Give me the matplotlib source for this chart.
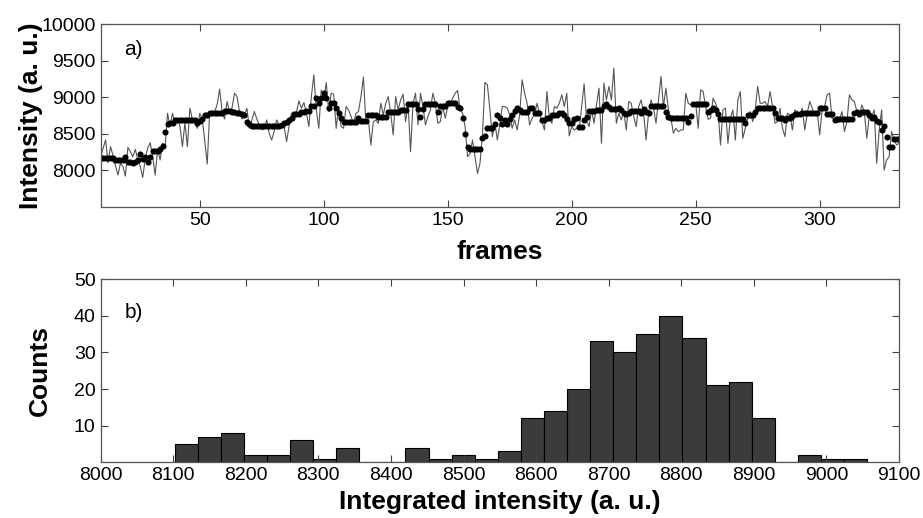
import numpy as np
import matplotlib
matplotlib.use("Agg")
import matplotlib.pyplot as plt

plt.rcParams["font.family"] = ["Liberation Sans", "DejaVu Sans"]

FIRST_FRAME = 10

# raw integrated intensity per frame (thin line), frames 10..332
raw_intensity = [
    8183, 8300, 8413, 8100, 8321, 8200, 8060, 7931, 8092, 8050,   # 10-19
    7917, 8312, 8252, 8183, 8284, 8138, 8050, 7899, 8161, 8300,   # 20-29
    8376, 8183, 7931, 8284, 8138, 8367, 8300, 8780, 8596, 8780,   # 30-39
    8642, 8700, 8600, 8321, 8650, 8321, 8849, 8700, 8642, 8573,   # 40-49
    8780, 8700, 8400, 8083, 8803, 8750, 8800, 8900, 9110, 8800,   # 50-59
    8700, 8940, 8800, 8850, 9055, 9010, 8800, 8700, 8750, 8849,   # 60-69
    8573, 8688, 8803, 8700, 8620, 8550, 8570, 8688, 8500, 8413,   # 70-79
    8530, 8688, 8620, 8642, 8600, 8390, 8600, 8780, 8750, 8800,   # 80-89
    8950, 8849, 8927, 8780, 8596, 9009, 9307, 8826, 8573, 9100,   # 90-99
    8963, 9202, 8803, 9055, 9041, 8573, 8872, 8596, 8573, 8872,   # 100-109
    8826, 8734, 8642, 8780, 8803, 9009, 9275, 8642, 8688, 8344,   # 110-119
    8665, 8688, 8642, 8917, 8757, 8917, 9009, 8780, 8482, 9009,   # 120-129
    8826, 8963, 9041, 8665, 8917, 8252, 8917, 9055, 8619, 9055,   # 130-139
    8872, 8619, 8734, 8826, 9055, 8917, 8642, 8665, 8872, 8711,   # 140-149
    8872, 8917, 8986, 9055, 9092, 8826, 8780, 8596, 8183, 8229,   # 150-159
    8413, 8183, 7954, 8092, 8482, 9202, 9170, 8826, 8459, 8650,   # 160-169
    8413, 8619, 8872, 8872, 8849, 8757, 8573, 8688, 8550, 8757,   # 170-179
    9239, 9055, 8917, 8619, 8711, 8757, 8917, 8780, 8665, 8550,   # 180-189
    9078, 8711, 8642, 8872, 8849, 8917, 9032, 8872, 9055, 8468,   # 190-199
    8596, 8550, 8573, 8550, 8872, 9183, 8688, 8596, 8826, 8642,   # 200-209
    8894, 9124, 8367, 9193, 8963, 9147, 8963, 9399, 8642, 8780,   # 210-219
    8688, 8803, 8550, 8940, 8917, 8734, 8596, 8872, 8963, 8780,   # 220-229
    8413, 8780, 8963, 8849, 8642, 8963, 9284, 8872, 9124, 8826,   # 230-239
    8711, 8505, 8573, 8528, 8550, 8550, 9055, 8917, 8894, 8872,   # 240-249
    8917, 8573, 9100, 9078, 8872, 8697, 8711, 8986, 8917, 8826,   # 250-259
    8344, 8826, 8849, 8367, 8711, 8826, 8413, 8963, 9078, 8436,   # 260-269
    8573, 8711, 8803, 8665, 8826, 9147, 8917, 8917, 8940, 8872,   # 270-279
    9078, 8872, 8642, 8665, 8849, 8573, 8459, 8780, 8757, 8550,   # 280-289
    8826, 8803, 8757, 8849, 8550, 8780, 8940, 8849, 8757, 8803,   # 290-299
    8482, 8826, 8872, 9032, 9055, 8711, 8711, 8734, 8688, 8803,   # 300-309
    8528, 8665, 9032, 8963, 8940, 8803, 8734, 8894, 8803, 8436,   # 310-319
    8734, 8734, 8826, 8092, 8550, 8826, 8000, 8138, 8183, 8528,   # 320-329
    8413, 8344, 8367,                                             # 330-332
]

# smoothed intensity per frame (black dots), frames 10..332
smoothed_intensity = [
    8170, 8170, 8170, 8170, 8170, 8170, 8138, 8138, 8138, 8138,   # 10-19
    8174, 8105, 8105, 8102, 8105, 8138, 8215, 8156, 8174, 8110,   # 20-29
    8174, 8257, 8257, 8257, 8284, 8335, 8518, 8633, 8651, 8651,   # 30-39
    8688, 8688, 8688, 8688, 8688, 8688, 8688, 8688, 8688, 8642,   # 40-49
    8674, 8697, 8761, 8761, 8780, 8780, 8780, 8780, 8780, 8780,   # 50-59
    8807, 8807, 8807, 8803, 8803, 8789, 8789, 8766, 8757, 8665,   # 60-69
    8628, 8605, 8605, 8605, 8605, 8605, 8605, 8605, 8605, 8605,   # 70-79
    8605, 8605, 8605, 8619, 8642, 8665, 8688, 8711, 8766, 8766,   # 80-89
    8766, 8800, 8800, 8812, 8812, 8885, 8885, 8995, 8927, 8995,   # 90-99
    9056, 8991, 8858, 8927, 8927, 8858, 8780, 8711, 8660, 8660,   # 100-109
    8660, 8660, 8660, 8660, 8720, 8674, 8674, 8674, 8757, 8757,   # 110-119
    8757, 8757, 8734, 8734, 8734, 8734, 8803, 8803, 8803, 8803,   # 120-129
    8803, 8826, 8826, 8826, 8904, 8904, 8904, 8904, 8835, 8734,   # 130-139
    8835, 8908, 8908, 8908, 8908, 8908, 8803, 8881, 8881, 8881,   # 140-149
    8917, 8917, 8917, 8917, 8872, 8849, 8720, 8491, 8312, 8284,   # 150-159
    8284, 8284, 8284, 8284, 8436, 8468, 8573, 8573, 8573, 8633,   # 160-169
    8757, 8711, 8628, 8688, 8628, 8697, 8757, 8812, 8858, 8826,   # 170-179
    8803, 8803, 8803, 8858, 8858, 8780, 8780, 8780, 8688, 8688,   # 180-189
    8711, 8711, 8757, 8757, 8757, 8789, 8789, 8757, 8706, 8642,   # 190-199
    8642, 8702, 8711, 8596, 8596, 8688, 8734, 8812, 8812, 8812,   # 200-209
    8826, 8826, 8826, 8885, 8904, 8872, 8835, 8835, 8835, 8858,   # 210-219
    8826, 8789, 8766, 8780, 8812, 8812, 8812, 8812, 8780, 8835,   # 220-229
    8803, 8789, 8885, 8885, 8885, 8885, 8885, 8885, 8794, 8734,   # 230-239
    8711, 8711, 8711, 8711, 8711, 8711, 8711, 8665, 8743, 8904,   # 240-249
    8904, 8904, 8904, 8904, 8904, 8803, 8826, 8849, 8826, 8766,   # 250-259
    8697, 8697, 8697, 8697, 8697, 8697, 8697, 8697, 8697, 8697,   # 260-269
    8642, 8757, 8757, 8757, 8803, 8858, 8858, 8858, 8858, 8858,   # 270-279
    8858, 8858, 8789, 8720, 8720, 8720, 8688, 8711, 8711, 8743,   # 280-289
    8766, 8766, 8766, 8789, 8789, 8789, 8789, 8789, 8789, 8789,   # 290-299
    8858, 8858, 8858, 8766, 8766, 8766, 8688, 8697, 8697, 8697,   # 300-309
    8697, 8697, 8697, 8697, 8780, 8803, 8766, 8794, 8794, 8794,   # 310-319
    8757, 8711, 8734, 8679, 8665, 8550, 8610, 8450, 8321, 8321,   # 320-329
    8427, 8427, 8427,                                             # 330-332
]

# histogram of the smoothed intensity: 30 equal bins between min and max
HIST_MIN = 8102
HIST_MAX = 9056
hist_counts = [5, 7, 8, 2, 2, 6, 1, 4, 0, 0,
               4, 1, 2, 1, 3, 12, 14, 20, 33, 30,
               35, 40, 34, 21, 22, 12, 0, 2, 1, 1]

frames = np.arange(FIRST_FRAME, FIRST_FRAME + len(raw_intensity))
edges = np.linspace(HIST_MIN, HIST_MAX, len(hist_counts) + 1)

fig = plt.figure(figsize=(9.23, 5.18), dpi=100)
ax1 = fig.add_axes([0.109, 0.600, 0.865, 0.353])
ax2 = fig.add_axes([0.109, 0.1075, 0.865, 0.3535])

tick_fs = 14
label_fs = 19

ax1.plot(frames, raw_intensity, color="#555555", lw=0.8)
ax1.plot(frames, smoothed_intensity, "o", color="black", ms=4.4, mew=0)
ax1.set_xlim(10, 332)
ax1.set_ylim(7490, 10000)
ax1.set_xticks([50, 100, 150, 200, 250, 300])
ax1.set_yticks([8000, 8500, 9000, 9500, 10000])
ax1.set_xlabel("frames", fontsize=label_fs, fontweight="bold", labelpad=8)
ax1.set_ylabel("Intensity (a. u.)", fontsize=label_fs, fontweight="bold", labelpad=-1)
ax1.text(0.03, 0.83, "a)", transform=ax1.transAxes, fontsize=15)

ax2.bar(edges[:-1], hist_counts, width=np.diff(edges), align="edge",
        color="#3b3b3b", edgecolor="black", linewidth=0.8)
ax2.set_xlim(8000, 9100)
ax2.set_ylim(0, 50)
ax2.set_xticks(np.arange(8000, 9101, 100))
ax2.set_yticks([10, 20, 30, 40, 50])
ax2.set_xlabel("Integrated intensity (a. u.)", fontsize=label_fs, fontweight="bold", labelpad=4)
ax2.set_ylabel("Counts", fontsize=label_fs, fontweight="bold", labelpad=16)
ax2.text(0.03, 0.79, "b)", transform=ax2.transAxes, fontsize=15)

for ax in (ax1, ax2):
    ax.tick_params(direction="in", length=5, width=0.8, top=True, right=True,
                   labelsize=tick_fs, color="#444444")
    for spine in ax.spines.values():
        spine.set_color("#555555")
        spine.set_linewidth(0.9)

fig.savefig("out.png", dpi=100)
